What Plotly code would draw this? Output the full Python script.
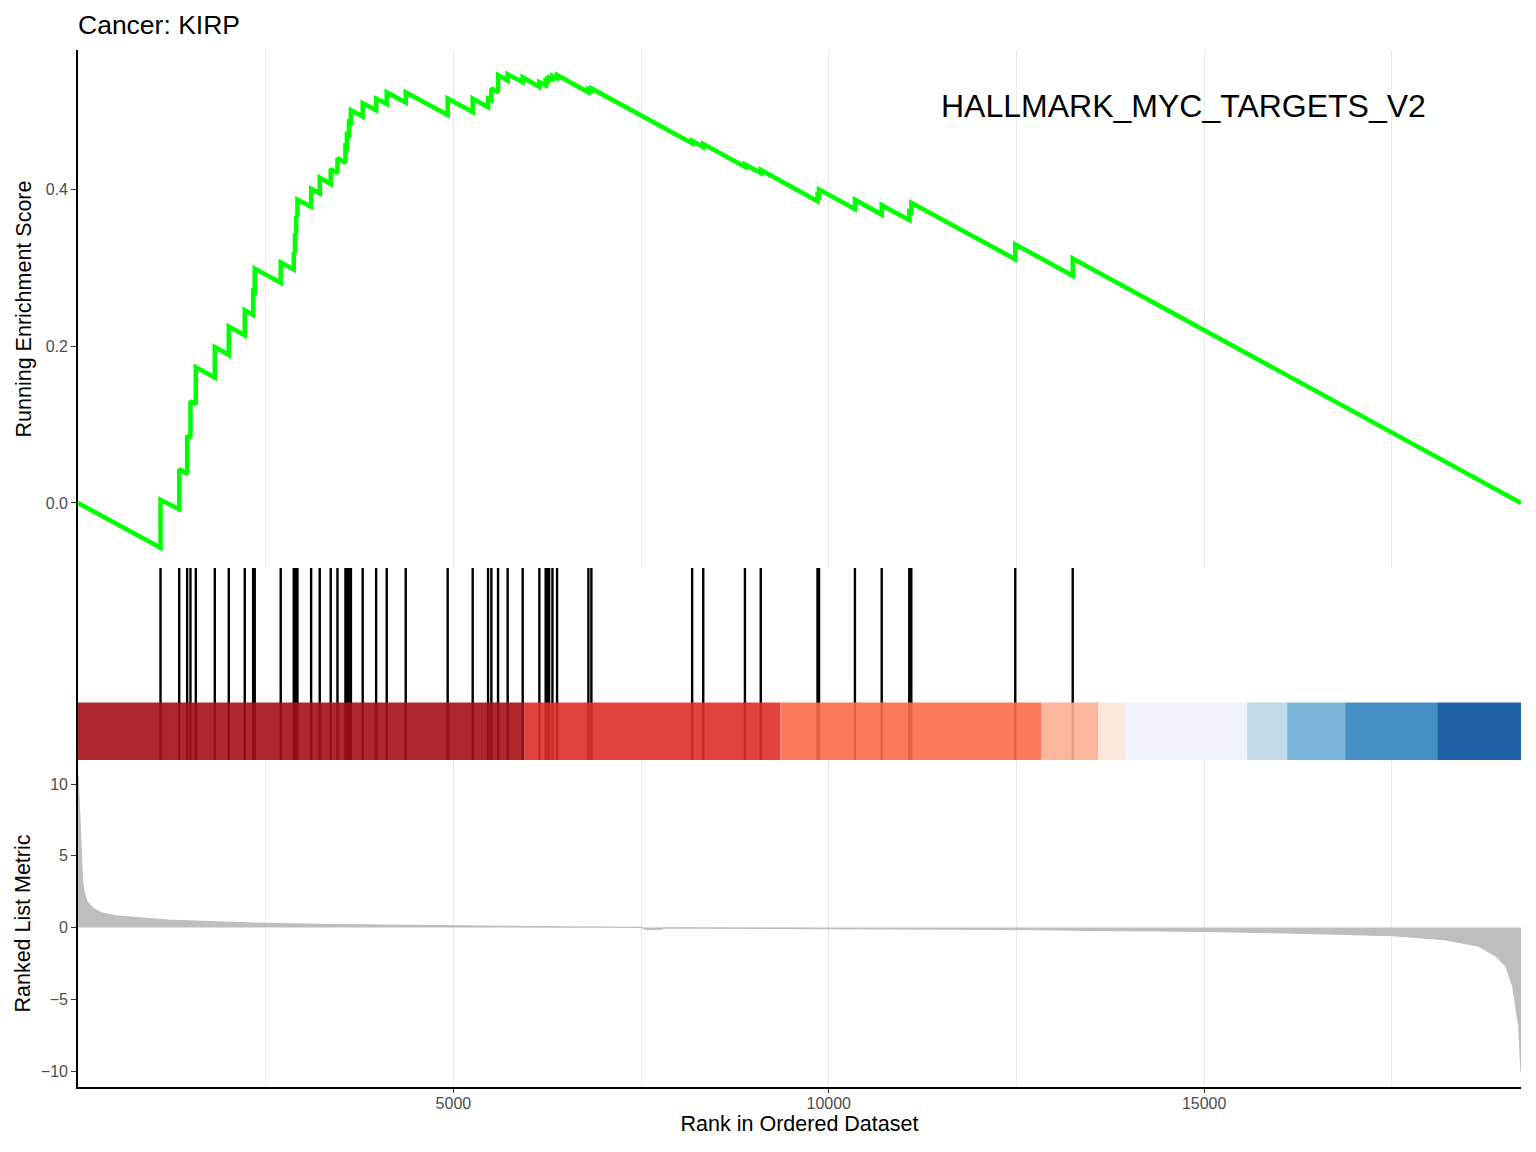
import plotly.graph_objects as go
from plotly.subplots import make_subplots

n_genes = 19220

# positions of the gene set members in the ranked list, with the running score just before / after each hit
hit_rank = [1099, 1348, 1454, 1498, 1569, 1822, 2008, 2221, 2333, 2354,
            2700, 2874, 2890, 2906, 2923, 3105, 3220, 3366, 3456, 3562,
            3582, 3609, 3635, 3792, 3971, 4112, 4365, 4924, 5257, 5462,
            5506, 5595, 5723, 5923, 6145, 6229, 6248, 6275, 6319, 6381,
            6798, 6838, 8180, 8328, 8883, 9094, 9850, 9870, 10348, 10705,
            11072, 11099, 12484, 13249]
es_before = [-0.057, -0.008, 0.037, 0.083, 0.126, 0.160, 0.189, 0.214, 0.240, 0.269,
             0.281, 0.298, 0.319, 0.343, 0.365, 0.378, 0.395, 0.407, 0.421, 0.434,
             0.454, 0.469, 0.485, 0.493, 0.501, 0.509, 0.511, 0.495, 0.499, 0.505,
             0.514, 0.524, 0.539, 0.537, 0.531, 0.533, 0.537, 0.540, 0.541, 0.542,
             0.524, 0.526, 0.459, 0.454, 0.429, 0.421, 0.385, 0.392, 0.375, 0.368,
             0.361, 0.371, 0.311, 0.290]
es_after = [0.004, 0.043, 0.086, 0.130, 0.173, 0.199, 0.225, 0.246, 0.270, 0.299,
            0.307, 0.320, 0.344, 0.366, 0.387, 0.401, 0.415, 0.426, 0.440, 0.455,
            0.470, 0.486, 0.501, 0.510, 0.516, 0.524, 0.524, 0.516, 0.516, 0.516,
            0.529, 0.546, 0.547, 0.543, 0.537, 0.538, 0.541, 0.543, 0.545, 0.546,
            0.528, 0.529, 0.462, 0.458, 0.432, 0.425, 0.393, 0.400, 0.387, 0.380,
            0.372, 0.383, 0.330, 0.312]

# ranked list metric (rank, value)
metric_rank = [1, 20, 33, 45, 60, 80, 120, 200, 300, 500, 750, 1200, 1650, 2100,
               2500, 3400, 4300, 5500, 6500, 7500, 7560, 7770, 7800, 8400, 10000,
               12260, 13540, 15000, 16090, 17515, 18200, 18660, 18890, 19020,
               19110, 19190, 19220]
metric_value = [10.6, 7.8, 7.0, 5.0, 3.3, 2.5, 1.8, 1.35, 1.05, 0.82, 0.7, 0.52, 0.43, 0.35,
                0.29, 0.21, 0.15, 0.1, 0.05, 0.01, -0.12, -0.12, -0.02, -0.03, -0.06,
                -0.12, -0.19, -0.26, -0.37, -0.56, -0.84, -1.3, -2.0, -2.7,
                -4.1, -6.9, -10.07]

# colour bar along the ranked list
bar_edges = [0, 5950, 9355, 12830, 13589, 13962, 15573, 16106, 16878, 18103, 19220]
bar_colors = ["#A50F15", "#DE2D26", "#FB6A4A", "#FCAE91", "#FEE5D9",
              "#EFF3FF", "#BDD7E7", "#6BAED6", "#3182BD", "#08519C"]

es_ticks = [0.0, 0.2, 0.4]
metric_ticks = [-10, -5, 0, 5, 10]
metric_ticktext = ["\u221210", "\u22125", "0", "5", "10"]
rank_ticks = [5000, 10000, 15000]
rank_ticktext = ["5000", "10000", "15000"]

font_family = "Liberation Sans, Arial, sans-serif"

fig = make_subplots(rows=3, cols=1, shared_xaxes=True, vertical_spacing=0)

es_x = [0]
es_y = [0]
for h, b, a in zip(hit_rank, es_before, es_after):
    es_x += [h, h]
    es_y += [b, a]
es_x.append(n_genes)
es_y.append(0)

fig.add_trace(go.Scatter(x=es_x, y=es_y, mode="lines",
                         line=dict(color="#00FF00", width=4.5)), row=1, col=1)

tick_x, tick_y = [], []
for h in hit_rank:
    tick_x += [h, h, None]
    tick_y += [0, 1, None]
fig.add_trace(go.Scatter(x=tick_x, y=tick_y, mode="lines",
                         line=dict(color="black", width=2.4)), row=2, col=1)

for i, c in enumerate(bar_colors):
    fig.add_shape(type="rect", x0=bar_edges[i], x1=bar_edges[i + 1], y0=0, y1=0.3,
                  xref="x2", yref="y2", fillcolor=c, opacity=0.9,
                  line=dict(width=0), layer="above")

fig.add_trace(go.Scatter(x=metric_rank, y=metric_value, mode="lines", fill="tozeroy",
                         fillcolor="#BEBEBE", line=dict(color="#BEBEBE", width=1.2)),
              row=3, col=1)

grid = dict(showgrid=True, gridcolor="#EBEBEB", gridwidth=1.2, tick0=0, dtick=5000,
            minor=dict(dtick=2500, showgrid=True, gridcolor="#EBEBEB", gridwidth=1.2))

fig.update_xaxes(range=[0, n_genes], zeroline=False, showline=False, ticks="",
                 showticklabels=False, showgrid=False)
fig.update_xaxes(row=1, col=1, **grid)
fig.update_xaxes(row=3, col=1, **grid)
fig.update_xaxes(row=3, col=1, showline=True, linecolor="black", linewidth=1.6,
                 showticklabels=True, ticks="outside", ticklen=4, tickwidth=1.2,
                 tickcolor="#333333", tickmode="array", tickvals=rank_ticks,
                 ticktext=rank_ticktext, ticklabelstandoff=-3,
                 tickfont=dict(size=16, color="#4D4D4D"),
                 title=dict(text="Rank in Ordered Dataset", font=dict(size=21.5, color="black"),
                            standoff=2))

axis_common = dict(zeroline=False, showgrid=False, showline=True, linecolor="black",
                   linewidth=1.6)
fig.update_yaxes(row=1, col=1, domain=[0.5005, 1.0], range=[-0.083, 0.578],
                 tickvals=es_ticks, tickformat=".1f", ticks="outside", ticklen=5,
                 tickwidth=1.2, tickcolor="#333333",
                 tickfont=dict(size=16, color="#4D4D4D"),
                 title=dict(text="Running Enrichment Score", font=dict(size=21.5, color="black"),
                            standoff=8),
                 **axis_common)
fig.update_yaxes(row=2, col=1, domain=[0.3153, 0.5005], range=[0, 1],
                 showticklabels=False, ticks="", **axis_common)
fig.update_yaxes(row=3, col=1, domain=[0.0, 0.3153], range=[-11.1, 11.67],
                 tickvals=metric_ticks, ticktext=metric_ticktext, ticks="outside",
                 ticklen=5, tickwidth=1.2, tickcolor="#333333",
                 tickfont=dict(size=16, color="#4D4D4D"),
                 title=dict(text="Ranked List Metric", font=dict(size=21.5, color="black"),
                            standoff=4),
                 **axis_common)

fig.add_annotation(text="HALLMARK_MYC_TARGETS_V2", xref="paper", yref="paper",
                   x=0.766, y=0.946, xanchor="center", yanchor="middle",
                   showarrow=False, font=dict(size=32, color="black"))

# the page body adds an 8px offset, so margins are shifted to compensate
fig.update_layout(
    width=1536, height=1152,
    margin=dict(l=70, r=23, t=42, b=73),
    paper_bgcolor="white", plot_bgcolor="white",
    showlegend=False,
    font=dict(family=font_family, color="black"),
    title=dict(text="Cancer: KIRP", x=70 / 1536, xanchor="left", xref="container",
               y=1 - 17 / 1152, yanchor="middle", yref="container",
               font=dict(size=26.5, color="black")),
)

fig.write_html("out.html")
